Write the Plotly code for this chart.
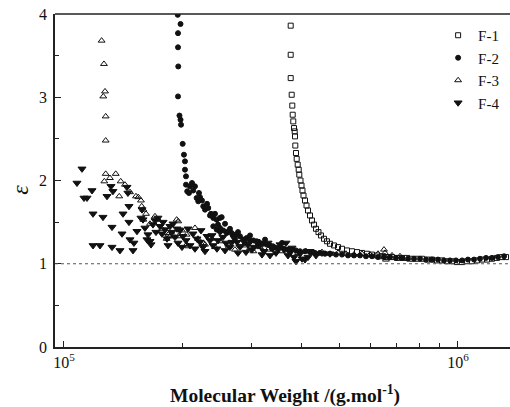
import plotly.graph_objects as go

# Molecular weight in units of 1e5 g/mol, epsilon values
f1_mw = [3.762, 3.762, 3.762, 3.784, 3.797, 3.806, 3.819, 3.835, 3.851, 3.858, 3.865, 3.880,
         3.896, 3.919, 3.942, 3.956, 3.984, 4.007, 4.030, 4.054, 4.090, 4.126, 4.163, 4.211,
         4.260, 4.310, 4.361, 4.425, 4.490, 4.570, 4.650, 4.733, 4.845, 4.960, 5.077, 5.228,
         5.383, 5.543, 5.706, 5.875, 6.050, 6.229, 6.414, 6.604, 6.800, 7.002, 7.210, 7.424,
         7.643, 7.870, 8.104, 8.344, 8.590, 8.846, 9.108, 9.378, 9.656, 9.942, 10.24, 10.54,
         10.85, 11.18, 11.51, 11.85, 12.20, 12.56, 12.93, 13.24]
f1_eps = [3.86, 3.51, 3.23, 3.03, 2.90, 2.79, 2.71, 2.63, 2.59, 2.53, 2.42, 2.33,
          2.26, 2.19, 2.13, 2.07, 2.00, 1.94, 1.88, 1.82, 1.76, 1.70, 1.64, 1.58,
          1.52, 1.47, 1.42, 1.38, 1.34, 1.30, 1.27, 1.24, 1.22, 1.20, 1.18, 1.16,
          1.15, 1.14, 1.13, 1.12, 1.11, 1.10, 1.09, 1.08, 1.08, 1.07, 1.07, 1.07,
          1.06, 1.06, 1.06, 1.05, 1.05, 1.04, 1.04, 1.03, 1.03, 1.02, 1.02, 1.03,
          1.03, 1.04, 1.05, 1.05, 1.06, 1.07, 1.08, 1.08]

f2_mw = [1.944, 1.976, 1.947, 1.947, 1.950, 1.947, 1.964, 1.976, 1.982, 2.001, 2.016, 2.028,
         2.028, 2.040, 2.040, 2.055, 2.088, 2.128, 2.150, 2.171, 2.192, 2.214, 2.257, 2.280,
         2.324, 2.361, 2.393, 2.441, 2.488, 2.513, 2.393, 2.441, 2.488, 2.536, 2.588, 2.612,
         2.664, 2.689, 2.732, 2.797, 2.851, 2.909, 2.966, 3.024, 3.085, 3.144, 3.200, 3.270,
         3.333, 3.392, 3.466, 3.534, 3.618, 3.703, 3.791, 3.880, 3.972, 4.090, 4.211, 4.336,
         4.464, 4.597, 4.733, 4.902, 5.077, 5.259, 5.445, 5.640, 5.841, 6.050, 6.266, 6.489,
         6.721, 6.961, 7.210, 7.467, 7.733, 8.010, 8.296, 8.590, 8.897, 9.216, 9.543, 9.883,
         10.24, 10.60, 10.98, 11.37, 11.78, 12.20, 12.63, 13.09,
         2.076, 2.113, 2.201, 2.240, 2.307, 2.347, 2.417, 2.460, 2.563, 2.638, 2.716, 2.765,
         2.880, 2.966, 3.108, 3.238, 3.373, 3.575, 3.747]
f2_eps = [3.99, 3.88, 3.77, 3.60, 3.37, 3.01, 2.78, 2.73, 2.67, 2.44, 2.31, 2.23,
          2.13, 2.05, 1.95, 1.87, 1.93, 1.88, 1.93, 1.79, 1.75, 1.80, 1.69, 1.65,
          1.67, 1.60, 1.55, 1.53, 1.55, 1.56, 1.45, 1.41, 1.43, 1.40, 1.37, 1.39,
          1.37, 1.33, 1.35, 1.33, 1.29, 1.31, 1.28, 1.28, 1.27, 1.25, 1.24, 1.23,
          1.22, 1.21, 1.19, 1.20, 1.18, 1.17, 1.17, 1.16, 1.15, 1.15, 1.14, 1.13,
          1.13, 1.12, 1.12, 1.11, 1.11, 1.10, 1.10, 1.10, 1.09, 1.09, 1.08, 1.08,
          1.08, 1.07, 1.07, 1.06, 1.06, 1.06, 1.05, 1.05, 1.05, 1.04, 1.04, 1.04,
          1.04, 1.05, 1.05, 1.06, 1.07, 1.07, 1.08, 1.09,
          1.85, 1.97, 1.85, 1.76, 1.72, 1.58, 1.60, 1.47, 1.48, 1.42, 1.30, 1.38,
          1.25, 1.34, 1.22, 1.29, 1.18, 1.25, 1.14]

f3_mw = [1.246, 1.263, 1.271, 1.258, 1.276, 1.276, 1.276, 1.353, 1.266, 1.393, 1.381, 1.523,
         1.544, 1.568, 1.575, 1.590, 1.590, 1.735, 1.932, 1.950, 1.829, 1.839, 1.858, 1.902,
         1.950, 1.822, 2.048, 2.048, 2.068, 2.150, 2.257, 2.280, 2.375, 2.488, 2.612, 2.623,
         2.797, 2.966, 3.024, 3.144, 3.295, 3.432, 3.575, 3.747, 3.925, 4.114, 4.310, 4.516,
         4.733, 4.960, 5.197, 5.445, 5.706, 5.979, 6.266, 6.489, 6.527, 6.527, 6.565, 6.800,
         7.125,
         1.308, 1.428, 1.471, 1.615, 1.653, 1.702, 1.773, 1.993, 2.188, 2.417, 2.716, 2.880]
f3_eps = [3.68, 3.40, 3.07, 3.01, 2.77, 2.48, 2.08, 2.08, 1.99, 1.99, 1.81, 1.81,
          1.80, 1.76, 1.69, 1.65, 1.53, 1.53, 1.53, 1.51, 1.37, 1.35, 1.33, 1.33,
          1.33, 1.30, 1.35, 1.23, 1.21, 1.43, 1.25, 1.23, 1.30, 1.27, 1.23, 1.21,
          1.25, 1.19, 1.15, 1.20, 1.17, 1.19, 1.15, 1.16, 1.13, 1.15, 1.13, 1.14,
          1.12, 1.13, 1.12, 1.11, 1.12, 1.11, 1.12, 1.17, 1.13, 1.09, 1.05, 1.10,
          1.09,
          2.03, 1.95, 1.86, 1.60, 1.48, 1.57, 1.42, 1.40, 1.30, 1.20, 1.17, 1.22]

f4_mw = [1.079, 1.111, 1.124, 1.144, 1.178, 1.185, 1.185, 1.234, 1.256, 1.286, 1.316, 1.331,
         1.324, 1.324, 1.387, 1.404, 1.412, 1.445, 1.453, 1.462, 1.462, 1.471, 1.497, 1.505,
         1.532, 1.568, 1.578, 1.587, 1.605, 1.624, 1.634, 1.653, 1.663, 1.682, 1.702, 1.732,
         1.753, 1.773, 1.804, 1.826, 1.858, 1.880, 1.913, 1.947, 1.970, 2.004, 2.040, 2.088,
         2.125, 2.175, 2.214, 2.253, 2.307, 2.347, 2.389, 2.445, 2.488, 2.532, 2.577, 2.638,
         2.701, 2.749, 2.797, 2.863, 2.931, 3.000, 3.072, 3.144, 3.219, 3.295, 3.373, 3.452,
         3.534, 3.618, 3.703, 3.791, 3.880, 3.972, 4.090, 4.211, 4.361, 4.516, 4.733,
         1.712, 1.784, 1.837, 1.891, 1.936, 1.993, 2.064, 2.150, 2.227, 2.280, 2.375, 2.460,
         2.563, 2.669, 2.765, 2.897, 3.036, 3.181, 3.333, 3.493, 3.660, 3.835, 4.019, 4.163]
f4_eps = [1.97, 2.14, 1.79, 1.79, 1.88, 1.60, 1.22, 1.22, 1.56, 1.81, 1.93, 1.87,
          1.44, 1.20, 1.16, 1.36, 1.60, 1.92, 1.85, 1.69, 1.50, 1.29, 1.16, 1.25,
          1.39, 1.55, 1.65, 1.53, 1.43, 1.29, 1.35, 1.27, 1.23, 1.47, 1.52, 1.55,
          1.45, 1.36, 1.41, 1.30, 1.45, 1.38, 1.32, 1.25, 1.40, 1.33, 1.28, 1.22,
          1.36, 1.30, 1.26, 1.20, 1.33, 1.28, 1.22, 1.18, 1.38, 1.32, 1.25, 1.20,
          1.32, 1.26, 1.20, 1.29, 1.23, 1.17, 1.27, 1.22, 1.15, 1.25, 1.20, 1.13,
          1.23, 1.17, 1.10, 1.19, 1.03, 1.12, 1.05, 1.15, 1.10, 1.13, 1.12,
          1.38, 1.50, 1.22, 1.48, 1.42, 1.20, 1.42, 1.18, 1.40, 1.15, 1.34, 1.28,
          1.16, 1.26, 1.13, 1.14, 1.20, 1.11, 1.10, 1.18, 1.25, 1.08, 1.06, 1.08]

SCALE = 1e5
series = [
    ("F-1", f1_mw, f1_eps, "square-open", 5),
    ("F-2", f2_mw, f2_eps, "circle", 5),
    ("F-3", f3_mw, f3_eps, "triangle-up-open", 6),
    ("F-4", f4_mw, f4_eps, "triangle-down", 7),
]

fig = go.Figure()
for name, xs, ys, sym, sz in series:
    fig.add_trace(go.Scatter(
        x=[v * SCALE for v in xs], y=ys, mode="markers", name=name,
        marker=dict(symbol=sym, size=sz, color="#111111",
                    line=dict(width=1, color="#111111")),
    ))

font_family = "Liberation Serif, Times New Roman, serif"
fig.update_layout(
    width=510, height=407,
    margin=dict(l=55, r=0, t=14, b=59.5),
    paper_bgcolor="white", plot_bgcolor="white",
    font=dict(family=font_family, size=16, color="#111111"),
    showlegend=True,
    legend=dict(x=0.842, y=0.985, xanchor="left", yanchor="top",
                bgcolor="rgba(0,0,0,0)", font=dict(size=15),
                itemwidth=30, tracegroupgap=0),
    xaxis=dict(
        type="log", range=[4.9772, 6.132],
        showgrid=False, zeroline=False,
        showline=True, linecolor="#222222", linewidth=1.5, mirror=False,
        ticks="inside", ticklen=6, tickwidth=1.2, tickcolor="#222222",
        tickvals=[1e5, 1e6], ticktext=["10<sup>5</sup>", "10<sup>6</sup>"],
        minor=dict(tickvals=[k * 1e5 for k in range(2, 10)], ticks="inside",
                   ticklen=4, tickwidth=1.2, tickcolor="#222222"),
        tickfont=dict(size=16),
    ),
    yaxis=dict(
        range=[0, 4], showgrid=False, zeroline=False,
        showline=True, linecolor="#222222", linewidth=1.5,
        ticks="inside", ticklen=6, tickwidth=1.2, tickcolor="#222222",
        tickvals=[0, 1, 2, 3, 4],
        minor=dict(tickvals=[0.5, 1.5, 2.5, 3.5], ticks="inside",
                   ticklen=4, tickwidth=1.2, tickcolor="#222222"),
        tickfont=dict(size=16), ticklabelstandoff=3,
    ),
)

# top frame line
fig.add_shape(type="line", xref="paper", yref="paper", x0=0, x1=1, y0=1, y1=1,
              line=dict(color="#222222", width=1.5))
# reference line at epsilon = 1
fig.add_shape(type="line", xref="paper", yref="y", x0=0, x1=1, y0=1, y1=1,
              line=dict(color="#555555", width=1, dash="3px,3px"))

fig.add_annotation(text="<b>Molecular Weight /(g.mol<sup>-1</sup>)</b>",
                   xref="paper", yref="paper", x=0.505, y=-0.142,
                   xanchor="center", yanchor="middle", showarrow=False,
                   font=dict(size=19.5, family=font_family))
fig.add_annotation(text="<i>ε</i>", xref="paper", yref="paper",
                   x=-0.077, y=0.472, xanchor="center", yanchor="middle",
                   textangle=-90, showarrow=False,
                   font=dict(size=24, family=font_family))

fig.write_html("out.html",
               config={"displayModeBar": False},
               post_script="document.body.style.margin='0';"
                           "document.body.style.overflow='hidden';")
